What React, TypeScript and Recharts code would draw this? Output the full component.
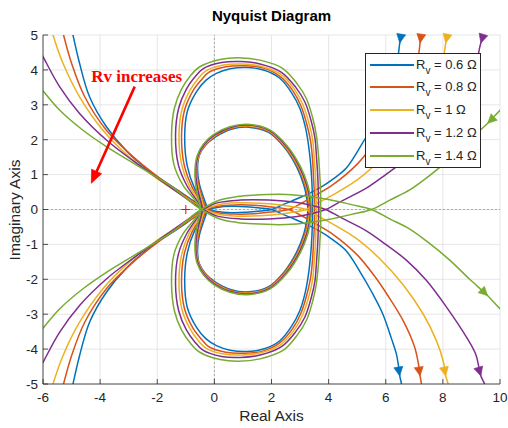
import React from 'react';
import { LineChart, Line, XAxis, YAxis, CartesianGrid, ReferenceLine, ReferenceDot } from 'recharts';

type P = [number, number];

// ---------- data ----------
const seriesLabels = ['0.6', '0.8', '1', '1.2', '1.4'];
const seriesColors = ['#0072BD', '#D95319', '#EDB120', '#7E2F8E', '#77AC30'];
const xTicks = [-6, -4, -2, 0, 2, 4, 6, 8, 10];
const yTicks = [-5, -4, -3, -2, -1, 0, 1, 2, 3, 4, 5];

// upper-left branches (from the junction outward)
const leftBranch06: P[] = [[-0.22, 0], [-0.6, 0.17], [-1.22, 0.52], [-2.27, 1.1], [-3.08, 1.68], [-3.78, 2.37], [-4.37, 3.23], [-4.72, 4.19], [-4.95, 5.0], [-5.1, 5.6]];
const leftBranch08: P[] = [[-0.28, 0], [-0.65, 0.18], [-1.2, 0.5], [-1.92, 0.9], [-2.97, 1.6], [-3.78, 2.27], [-4.54, 3.23], [-5.0, 4.19], [-5.28, 5.0], [-5.45, 5.6]];
const leftBranch10: P[] = [[-0.34, 0], [-0.7, 0.18], [-1.2, 0.45], [-2.03, 0.9], [-3.08, 1.58], [-3.9, 2.27], [-4.72, 3.23], [-5.3, 4.19], [-5.65, 5.0], [-5.85, 5.6]];
const leftBranch12: P[] = [[-0.4, 0], [-0.75, 0.18], [-1.68, 0.72], [-2.85, 1.4], [-3.78, 1.99], [-4.72, 2.75], [-5.42, 3.52], [-6.0, 4.38], [-6.4, 5.0]];
const leftBranch14: P[] = [[-0.46, 0], [-0.8, 0.2], [-1.45, 0.63], [-2.62, 1.22], [-3.78, 1.8], [-4.6, 2.27], [-5.42, 2.85], [-6.12, 3.52], [-6.6, 4.0]];

// thin lens along the real axis, continuing to the lower-right branch
const lensBranch06: P[] = [[-0.22, 0], [0.1, 0.06], [0.6, 0.09], [1.1, 0.08], [1.6, 0.045], [2.0, 0], [2.35, -0.12], [2.7, -0.24], [3.1, -0.38], [3.69, -0.62], [4.2, -0.9], [4.62, -1.19], [5.09, -1.77], [5.5, -2.35], [5.9, -3.0], [6.2, -3.7], [6.37, -4.13], [6.45, -4.5], [6.49, -4.77], [6.55, -5.0], [6.6, -5.5]];
const lensBranch08: P[] = [[-0.28, 0], [0.1, 0.09], [0.7, 0.13], [1.4, 0.12], [2.0, 0.07], [2.6, 0], [3.1, -0.2], [3.57, -0.42], [4.15, -0.71], [5.0, -1.3], [5.6, -1.9], [6.1, -2.5], [6.6, -3.17], [7.01, -3.94], [7.17, -4.55], [7.2, -4.77], [7.25, -5.0], [7.28, -5.5]];
const lensBranch10: P[] = [[-0.34, 0], [0.1, 0.13], [0.8, 0.19], [1.6, 0.18], [2.4, 0.12], [3.2, 0], [3.6, -0.18], [4.15, -0.42], [5.0, -0.85], [5.8, -1.42], [6.6, -2.15], [7.3, -2.98], [7.77, -3.75], [8.03, -4.4], [8.1, -4.77], [8.18, -5.0], [8.22, -5.5]];
const lensBranch12: P[] = [[-0.4, 0], [0.1, 0.19], [0.9, 0.27], [1.9, 0.27], [2.9, 0.2], [3.5, 0.1], [3.9, 0], [4.4, -0.22], [5.32, -0.61], [6.0, -1.0], [6.72, -1.45], [7.42, -2.03], [8.12, -2.79], [8.82, -3.65], [9.15, -4.15], [9.33, -4.77], [9.46, -5.0], [9.6, -5.5]];
const lensBranch14: P[] = [[-0.46, 0], [0.19, 0.27], [0.8, 0.37], [1.35, 0.41], [2.52, 0.43], [3.34, 0.37], [4.04, 0.28], [4.8, 0.14], [5.5, 0], [6.14, -0.27], [6.84, -0.56], [7.5, -0.95], [8.24, -1.45], [8.94, -2.0], [9.57, -2.47], [10.0, -2.84], [10.6, -3.3]];

// upper half of the large loops
const bigLoop06: P[] = [[-0.22, 0], [-0.4, 0.22], [-0.7, 0.62], [-0.95, 1.25], [-1.04, 2.05], [-0.95, 2.8], [-0.63, 3.37], [-0.3, 3.7], [0.07, 3.9], [0.55, 4.03], [1.12, 4.07], [1.75, 3.99], [2.29, 3.76], [2.7, 3.35], [2.99, 2.9], [3.18, 2.38], [3.28, 1.94], [3.36, 1.4], [3.4, 0.98], [3.43, 0.45], [3.44, 0]];
const bigLoop08: P[] = [[-0.28, 0], [-0.46, 0.22], [-0.78, 0.64], [-1.05, 1.25], [-1.15, 2.08], [-1.05, 2.83], [-0.75, 3.4], [-0.45, 3.72], [-0.2, 3.93], [0.4, 4.09], [1.05, 4.12], [1.72, 4.05], [2.31, 3.81], [2.75, 3.4], [3.04, 2.95], [3.25, 2.4], [3.37, 1.95], [3.44, 1.4], [3.47, 0.95], [3.5, 0.45], [3.51, 0]];
const bigLoop10: P[] = [[-0.34, 0], [-0.53, 0.23], [-0.87, 0.66], [-1.14, 1.27], [-1.24, 2.1], [-1.13, 2.88], [-0.85, 3.42], [-0.58, 3.74], [-0.3, 3.97], [0.32, 4.14], [0.97, 4.17], [1.65, 4.1], [2.33, 3.87], [2.8, 3.45], [3.1, 3.0], [3.32, 2.45], [3.44, 2.0], [3.5, 1.42], [3.54, 0.95], [3.56, 0.45], [3.57, 0]];
const bigLoop12: P[] = [[-0.4, 0], [-0.6, 0.24], [-0.96, 0.68], [-1.26, 1.28], [-1.36, 2.12], [-1.25, 2.9], [-0.98, 3.45], [-0.7, 3.78], [-0.4, 4.03], [0.25, 4.21], [0.9, 4.24], [1.6, 4.17], [2.35, 3.93], [2.85, 3.5], [3.17, 3.08], [3.4, 2.5], [3.52, 2.05], [3.58, 1.45], [3.62, 0.95], [3.64, 0.45], [3.65, 0]];
const bigLoop14: P[] = [[-0.46, 0], [-0.66, 0.25], [-1.1, 0.7], [-1.42, 1.3], [-1.5, 2.13], [-1.4, 2.9], [-1.15, 3.45], [-0.85, 3.82], [-0.51, 4.09], [0.2, 4.3], [0.83, 4.35], [1.6, 4.28], [2.4, 4.04], [2.9, 3.6], [3.22, 3.18], [3.45, 2.6], [3.57, 2.13], [3.65, 1.5], [3.69, 0.98], [3.72, 0.45], [3.72, 0]];

// upper half of the small loops
const smallLoop06: P[] = [[-0.22, 0], [-0.36, 0.3], [-0.53, 0.75], [-0.59, 1.15], [-0.53, 1.55], [-0.31, 1.84], [0.04, 2.08], [0.59, 2.3], [1.2, 2.36], [1.9, 2.21], [2.45, 1.78], [2.88, 1.22], [3.13, 0.7], [3.24, 0.3], [3.27, 0]];
const smallLoop08: P[] = [[-0.28, 0], [-0.41, 0.3], [-0.56, 0.75], [-0.61, 1.15], [-0.54, 1.55], [-0.32, 1.85], [0.03, 2.1], [0.58, 2.32], [1.2, 2.38], [1.91, 2.23], [2.47, 1.79], [2.92, 1.22], [3.17, 0.7], [3.28, 0.3], [3.31, 0]];
const smallLoop10: P[] = [[-0.34, 0], [-0.45, 0.3], [-0.59, 0.75], [-0.63, 1.15], [-0.55, 1.55], [-0.33, 1.86], [0.02, 2.12], [0.57, 2.34], [1.19, 2.4], [1.92, 2.25], [2.5, 1.8], [2.95, 1.22], [3.2, 0.7], [3.31, 0.3], [3.34, 0]];
const smallLoop12: P[] = [[-0.4, 0], [-0.5, 0.3], [-0.62, 0.75], [-0.65, 1.15], [-0.57, 1.55], [-0.35, 1.87], [0.0, 2.13], [0.56, 2.35], [1.18, 2.42], [1.93, 2.26], [2.52, 1.81], [2.98, 1.22], [3.23, 0.7], [3.34, 0.3], [3.37, 0]];
const smallLoop14: P[] = [[-0.46, 0], [-0.56, 0.3], [-0.66, 0.75], [-0.68, 1.15], [-0.6, 1.55], [-0.38, 1.88], [-0.02, 2.15], [0.54, 2.37], [1.18, 2.44], [1.94, 2.28], [2.55, 1.82], [3.02, 1.22], [3.27, 0.7], [3.37, 0.3], [3.4, 0]];

// arrow tips on the lower-right branch (mirrored for the upper one)
const arrowTip06: P = [6.49, -4.77];
const arrowTip08: P = [7.2, -4.77];
const arrowTip10: P = [8.1, -4.77];
const arrowTip12: P = [9.33, -4.77];
const arrowTip14: P = [9.57, -2.47];

// critical point and annotation
const criticalPoint: P = [-1, 0];
const annotationText = 'Rv increases';
const annotationTextAt: P = [-4.31, 3.66];
const annotationArrowFrom: P = [-2.79, 3.52];
const annotationArrowTo: P = [-4.31, 0.75];

// ---------- layout ----------
const W = 508, H = 428;
const M = { top: 35, right: 8, left: 0, bottom: 0 };
const YW = 43, XH = 44;
const KX = (W - M.right - YW) / 16; // px per unit, x
const KY = (H - M.top - XH) / 10;   // px per unit, y
const AXIS = '#262626';
const FONT = '"Liberation Sans", Arial, sans-serif';
const TICK_FS = 13.5;

const series = [
  { label: seriesLabels[0], color: seriesColors[0], left: leftBranch06, lens: lensBranch06, big: bigLoop06, small: smallLoop06, tip: arrowTip06 },
  { label: seriesLabels[1], color: seriesColors[1], left: leftBranch08, lens: lensBranch08, big: bigLoop08, small: smallLoop08, tip: arrowTip08 },
  { label: seriesLabels[2], color: seriesColors[2], left: leftBranch10, lens: lensBranch10, big: bigLoop10, small: smallLoop10, tip: arrowTip10 },
  { label: seriesLabels[3], color: seriesColors[3], left: leftBranch12, lens: lensBranch12, big: bigLoop12, small: smallLoop12, tip: arrowTip12 },
  { label: seriesLabels[4], color: seriesColors[4], left: leftBranch14, lens: lensBranch14, big: bigLoop14, small: smallLoop14, tip: arrowTip14 },
];

const mir = (p: P): P => [p[0], -p[1]];
const toObj = (pts: P[]) => pts.map(([x, y]) => ({ x, y }));
// closed loop: junction -> upper half -> real-axis crossing -> lower half (mirror) -> junction
const loopPath = (pts: P[]) => toObj([...pts, ...pts.slice(0, -1).reverse().map(mir)]);
// upper-left branch into the junction, continuing along the lens (mirrored side)
const throughJunction = (left: P[], lens: P[]): P[] => [...left.slice().reverse(), ...lens.slice(1).map(mir)];

// centripetal Catmull-Rom curve (passes through every point, no ringing)
const catmullRom = (context: any) => {
  let pts: number[][] = [];
  return {
    areaStart() {},
    areaEnd() {},
    lineStart() { pts = []; },
    point(x: number, y: number) { pts.push([+x, +y]); },
    lineEnd() {
      const n = pts.length;
      if (!n) return;
      context.moveTo(pts[0][0], pts[0][1]);
      if (n === 1) return;
      for (let i = 0; i < n - 1; i++) {
        const p0 = i > 0 ? pts[i - 1] : null;
        const p1 = pts[i], p2 = pts[i + 1];
        const p3 = i + 2 < n ? pts[i + 2] : null;
        const l12 = Math.hypot(p2[0] - p1[0], p2[1] - p1[1]);
        const l01 = p0 ? Math.hypot(p1[0] - p0[0], p1[1] - p0[1]) : 0;
        const l23 = p3 ? Math.hypot(p3[0] - p2[0], p3[1] - p2[1]) : 0;
        const l12a = Math.sqrt(l12), l01a = Math.sqrt(l01), l23a = Math.sqrt(l23);
        let c1x = p1[0], c1y = p1[1], c2x = p2[0], c2y = p2[1];
        if (p0 && l01a > 1e-9) {
          const a = 2 * l01 + 3 * l01a * l12a + l12;
          const nn = 3 * l01a * (l01a + l12a);
          c1x = (p1[0] * a - p0[0] * l12 + p2[0] * l01) / nn;
          c1y = (p1[1] * a - p0[1] * l12 + p2[1] * l01) / nn;
        }
        if (p3 && l23a > 1e-9) {
          const b = 2 * l23 + 3 * l23a * l12a + l12;
          const m = 3 * l23a * (l23a + l12a);
          c2x = (p2[0] * b + p1[0] * l23 - p3[0] * l12) / m;
          c2y = (p2[1] * b + p1[1] * l23 - p3[1] * l12) / m;
        }
        context.bezierCurveTo(c1x, c1y, c2x, c2y, p2[0], p2[1]);
      }
    },
  };
};

const tangent = (pts: P[], tip: P): P => {
  let best = 0, bd = Infinity;
  pts.forEach(([x, y], i) => {
    const d = (x - tip[0]) ** 2 + (y - tip[1]) ** 2;
    if (d < bd) { bd = d; best = i; }
  });
  const a = pts[Math.max(0, best - 1)], b = pts[Math.min(pts.length - 1, best + 1)];
  return [b[0] - a[0], b[1] - a[1]];
};

const deg = (pdx: number, pdy: number) => (Math.atan2(pdy, pdx) * 180) / Math.PI;

const Tri = ({ cx, cy, angle, color, len = 9, half = 4.5 }: any) => (
  <path d={`M0,0 L${-len},${-half} L${-len},${half} Z`} transform={`translate(${cx},${cy}) rotate(${angle})`} fill={color} stroke={color} strokeWidth={0.6} strokeLinejoin="round" />
);

const LeftTick = ({ x, y, payload }: any) => (
  <g>
    <line x1={x} x2={x + 5} y1={y} y2={y} stroke={AXIS} strokeWidth={0.8} />
    <text x={x - 5} y={y} dy={4.8} textAnchor="end" fontSize={TICK_FS} fill={AXIS} fontFamily={FONT}>{payload.value}</text>
  </g>
);
const BottomTick = ({ x, y, payload }: any) => (
  <g>
    <line x1={x} x2={x} y1={y} y2={y - 5} stroke={AXIS} strokeWidth={0.8} />
    <text x={x} y={y + 18} textAnchor="middle" fontSize={TICK_FS} fill={AXIS} fontFamily={FONT}>{payload.value}</text>
  </g>
);
const TopTick = ({ x, y }: any) => <line x1={x} x2={x} y1={y} y2={y + 5} stroke={AXIS} strokeWidth={0.8} />;
const RightTick = ({ x, y }: any) => <line x1={x} x2={x - 5} y1={y} y2={y} stroke={AXIS} strokeWidth={0.8} />;

export default function App() {
  const lines: React.ReactNode[] = [];
  series.forEach((s, i) => {
    const path = throughJunction(s.left, s.lens);
    const common = { dataKey: 'y', stroke: s.color, strokeWidth: 1.5, dot: false, isAnimationActive: false, type: catmullRom as any, legendType: 'none' as const };
    lines.push(<Line key={`p${i}`} data={toObj(path)} {...common} />);
    lines.push(<Line key={`q${i}`} data={toObj(path.map(mir))} {...common} />);
    lines.push(<Line key={`b${i}`} data={loopPath(s.big)} {...common} />);
    lines.push(<Line key={`s${i}`} data={loopPath(s.small)} {...common} />);
  });

  const arrows: React.ReactNode[] = [];
  series.forEach((s, i) => {
    const [dx, dy] = tangent(s.lens, s.tip);
    const aDown = deg(dx * KX, -dy * KY);
    const aUp = deg(-dx * KX, -dy * KY);
    arrows.push(
      <ReferenceDot key={`ad${i}`} x={s.tip[0]} y={s.tip[1]} r={0} shape={(p: any) => <Tri cx={p.cx} cy={p.cy} angle={aDown} color={s.color} />} />
    );
    arrows.push(
      <ReferenceDot key={`au${i}`} x={s.tip[0]} y={-s.tip[1]} r={0} shape={(p: any) => <Tri cx={p.cx} cy={p.cy} angle={aUp} color={s.color} />} />
    );
  });

  const annAngle = deg((annotationArrowTo[0] - annotationArrowFrom[0]) * KX, -(annotationArrowTo[1] - annotationArrowFrom[1]) * KY);
  const shaftEnd: P = [
    annotationArrowTo[0] - (annotationArrowTo[0] - annotationArrowFrom[0]) * 0.1,
    annotationArrowTo[1] - (annotationArrowTo[1] - annotationArrowFrom[1]) * 0.1,
  ];

  return (
    <div style={{ position: 'absolute', left: 0, top: 0, width: W, height: H, background: '#fff', fontFamily: FONT }}>
      <div style={{ position: 'absolute', left: YW, width: W - YW - M.right, top: 7, lineHeight: '18px', textAlign: 'center', fontWeight: 'bold', fontSize: 15, color: '#000' }}>
        Nyquist Diagram
      </div>
      <div style={{ position: 'absolute', left: YW, width: W - YW - M.right, top: 407, lineHeight: '18px', textAlign: 'center', fontSize: 15.5, color: AXIS }}>
        Real Axis
      </div>
      <div style={{ position: 'absolute', left: 15 - 100, width: 200, top: 209.5 - 9, lineHeight: '18px', textAlign: 'center', fontSize: 15.5, color: AXIS, transform: 'rotate(-90deg)' }}>
        Imaginary Axis
      </div>
      <div style={{ position: 'absolute', left: 0, top: 0 }}>
        <LineChart width={W} height={H} margin={M}>
          <CartesianGrid stroke="#e0e0e0" strokeWidth={0.8} />
          <XAxis xAxisId={0} dataKey="x" type="number" domain={[-6, 10]} ticks={xTicks} allowDataOverflow interval={0}
            height={XH} tickSize={0} tickMargin={0} tick={<BottomTick />} tickLine={false} axisLine={{ stroke: AXIS, strokeWidth: 0.8 }} />
          <XAxis xAxisId="top" orientation="top" dataKey="x" type="number" domain={[-6, 10]} ticks={xTicks} allowDataOverflow interval={0}
            height={0} tickSize={0} tickMargin={0} tick={<TopTick />} tickLine={false} axisLine={{ stroke: AXIS, strokeWidth: 0.8 }} />
          <YAxis yAxisId={0} type="number" domain={[-5, 5]} ticks={yTicks} allowDataOverflow interval={0}
            width={YW} tickSize={0} tickMargin={0} tick={<LeftTick />} tickLine={false} axisLine={{ stroke: AXIS, strokeWidth: 0.8 }} />
          <YAxis yAxisId="right" orientation="right" type="number" domain={[-5, 5]} ticks={yTicks} allowDataOverflow interval={0}
            width={0} tickSize={0} tickMargin={0} tick={<RightTick />} tickLine={false} axisLine={{ stroke: AXIS, strokeWidth: 0.8 }} />
          <ReferenceLine x={0} stroke="#a8a8a8" strokeDasharray="2 2" strokeWidth={1} />
          <ReferenceLine y={0} stroke="#a8a8a8" strokeDasharray="2 2" strokeWidth={1} />
          {lines}
          {arrows}
          <ReferenceDot x={criticalPoint[0]} y={criticalPoint[1]} r={0}
            shape={(p: any) => <path d={`M${p.cx - 4.5},${p.cy}H${p.cx + 4.5}M${p.cx},${p.cy - 4.5}V${p.cy + 4.5}`} stroke="#ff0000" strokeWidth={1} fill="none" />} />
          <ReferenceLine segment={[{ x: annotationArrowFrom[0], y: annotationArrowFrom[1] }, { x: shaftEnd[0], y: shaftEnd[1] }]} stroke="#ff0000" strokeWidth={2.6} ifOverflow="visible" />
          <ReferenceDot x={annotationArrowTo[0]} y={annotationArrowTo[1]} r={0}
            shape={(p: any) => <Tri cx={p.cx} cy={p.cy} angle={annAngle} color="#ff0000" len={13} half={5.5} />} />
          <ReferenceDot x={annotationTextAt[0]} y={annotationTextAt[1]} r={0}
            shape={(p: any) => (
              <text x={p.cx} y={p.cy} fill="#ff0000" fontWeight="bold" fontSize={17} fontFamily='"Liberation Serif", "Times New Roman", serif'>{annotationText}</text>
            )} />
        </LineChart>
      </div>
      <div style={{ position: 'absolute', left: 365, top: 53, width: 116, height: 115, boxSizing: 'border-box', border: `1px solid ${AXIS}`, background: '#fff' }}>
        {series.map((s, i) => (
          <div key={i} style={{ position: 'absolute', left: 0, top: 10.5 + i * 22.9 - 8, height: 16, width: 114 }}>
            <div style={{ position: 'absolute', left: 4, top: 7, width: 44, height: 0, borderTop: `2px solid ${s.color}` }} />
            <div style={{ position: 'absolute', left: 50, top: 0, lineHeight: '16px', fontSize: 13, color: AXIS, whiteSpace: 'nowrap' }}>
              R<span style={{ fontSize: 10, position: 'relative', top: 5 }}>v</span> = {s.label} Ω
            </div>
          </div>
        ))}
      </div>
    </div>
  );
}
